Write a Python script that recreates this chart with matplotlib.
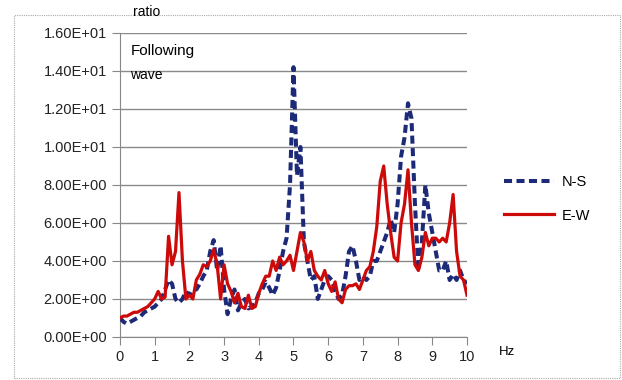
import numpy as np
import matplotlib
matplotlib.use("Agg")
import matplotlib.pyplot as plt
from matplotlib.patches import Rectangle

plt.rcParams['font.family'] = ['Liberation Sans', 'DejaVu Sans']

# frequency axis, 0.1 Hz steps
freq = [round(0.1 * i, 1) for i in range(101)]

# N-S component ratio
ns = [1.0, 0.8, 0.7, 0.8, 0.9, 1.0, 1.1, 1.3, 1.4, 1.5,
      1.6, 1.8, 2.0, 2.5, 3.0, 2.8, 2.0, 1.8, 2.0, 2.4,
      2.2, 2.5, 2.5, 2.8, 3.2, 3.5, 4.5, 5.1, 3.5, 4.8,
      2.5, 1.2, 2.0, 2.5, 1.4, 1.8, 2.0, 1.5, 1.6, 1.8,
      2.3, 2.5, 2.9, 2.6, 2.2, 2.6, 3.5, 4.5, 5.2, 8.0,
      14.2, 8.5, 10.0, 5.0, 4.0, 3.0, 3.2, 2.0, 2.5, 3.0,
      3.2, 3.0, 2.4, 2.0, 2.2, 3.2, 4.5, 4.8, 4.0, 3.0,
      3.2, 3.0, 3.2, 4.0, 4.0, 4.5, 5.0, 5.5, 6.2, 5.5,
      7.0, 9.5, 10.5, 12.3, 11.5, 7.0, 3.5, 5.0, 8.0, 6.5,
      5.5, 4.5, 3.5, 3.5, 4.0, 3.0, 3.3, 3.0, 3.5, 3.0,
      2.8]

# E-W component ratio
ew = [1.0, 1.1, 1.1, 1.2, 1.3, 1.3, 1.4, 1.5, 1.6, 1.8,
      2.0, 2.4, 2.0, 2.1, 5.3, 3.8, 4.5, 7.6, 4.0, 2.0,
      2.2, 2.0, 3.0, 3.3, 3.8, 3.7, 4.0, 4.6, 3.8, 2.0,
      3.8, 2.8, 2.4, 1.8, 2.3, 1.6, 1.5, 2.2, 1.5, 1.6,
      2.3, 2.8, 3.2, 3.2, 4.0, 3.5, 4.2, 3.8, 4.0, 4.3,
      3.5, 4.5, 5.5, 5.0, 4.0, 4.5, 3.5, 3.2, 3.0, 3.5,
      2.8, 2.4, 2.9, 2.0, 1.8, 2.5, 2.7, 2.7, 2.8, 2.5,
      3.0, 3.5, 3.7, 4.5, 5.8, 8.2, 9.0, 7.0, 5.5, 4.2,
      4.0, 6.0, 7.0, 8.8, 6.0, 3.8, 3.5, 4.2, 5.5, 4.8,
      5.2, 5.2, 5.0, 5.2, 5.0, 6.0, 7.5, 4.5, 3.2, 3.0,
      2.2]

y_ticks = np.arange(0, 16.1, 2)
x_ticks = range(0, 11)

fig = plt.figure(figsize=(6.22, 3.8), dpi=100)
ax = fig.add_axes([0.1929, 0.1132, 0.5579, 0.8])

ax.plot(freq, ns, color='#1c2a78', lw=2.9, ls=(0, (2.0, 1.1)), label='N-S', zorder=3)
ax.plot(freq, ew, color='#cc0a0a', lw=2.3, label='E-W', zorder=4)

ax.set_xlim(0, 10)
ax.set_ylim(0, 16)
ax.set_yticks(y_ticks)
ax.set_yticklabels(['%.2fE+%02d' % (v / 10 if v >= 10 else v, 1 if v >= 10 else 0) for v in y_ticks])
ax.set_xticks(x_ticks)
ax.tick_params(labelsize=10.5, colors='#222222', length=6, width=0.8)
ax.tick_params(axis='both', color='#888888')
ax.grid(axis='y', color='#8a8a8a', lw=1)
ax.set_axisbelow(True)
for s in ['top', 'right']:
    ax.spines[s].set_visible(False)
for s in ['left', 'bottom']:
    ax.spines[s].set_color('#888888')

ax.text(0.03, 0.965, 'Following', transform=ax.transAxes, fontsize=11, va='top', ha='left')
ax.text(0.03, 0.885, 'wave', transform=ax.transAxes, fontsize=10, va='top', ha='left')
fig.text(147 / 622, 1 - 12 / 380, 'ratio', fontsize=10, ha='center', va='center')
fig.text(507 / 622, 1 - 352 / 380, 'Hz', fontsize=9.5, ha='center', va='center')

ax.legend(loc='center left', bbox_to_anchor=(1.07, 0.455), frameon=False,
          fontsize=10.5, handlelength=3.4, handletextpad=0.5, labelspacing=1.35)

# dotted outer frame
fig.patches.append(Rectangle((14 / 622, 2 / 380), 606 / 622, 363 / 380,
                             transform=fig.transFigure, fill=False,
                             ec='#aaaaaa', lw=0.8, ls=(0, (1, 1))))

fig.savefig('out.png', dpi=100)
